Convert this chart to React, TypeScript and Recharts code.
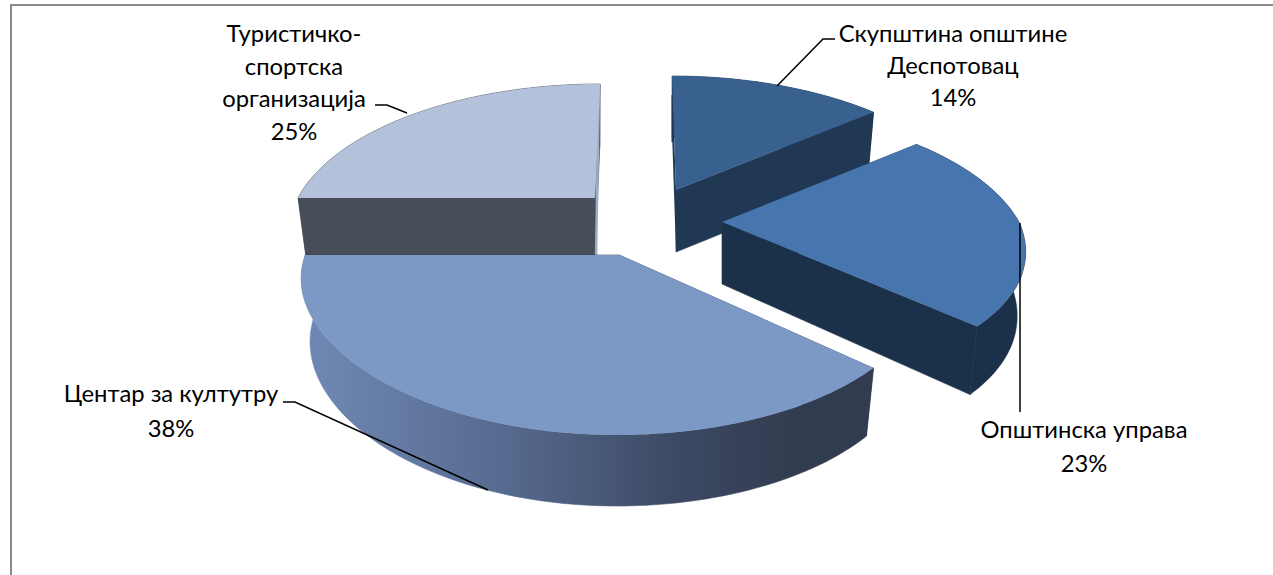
import React from 'react';
import { PieChart, Pie } from 'recharts';

// Data (drawing order runs clockwise from the left-hand edge of the pie)
const categories = ['Туристичко-спортска организација', 'Скупштина општине Деспотовац', 'Општинска управа', 'Центар за културу'];
const displayLines = [
  ['Туристичко-', 'спортска', 'организација'],
  ['Скупштина општине', 'Деспотовац'],
  ['Општинска управа'],
  ['Центар за култутру'],
];
const shares = [25, 14, 23, 38];

// Styles and layout, per slice
const topColors = ['#b3c2da', '#38618f', '#4776ae', '#7c98c5'];
const sideColors = ['#474e58', '#203854', '#1b3049', '#323c50'];
const backFaceColors = ['#9dadc8', '#203854', '#1b3049', '#323c50'];
const outerWallFills = ['#474e58', '#203854', '#1b3049', 'url(#wallGradient)'];
const apexes = [
  { x: 595, y: 198 },
  { x: 676, y: 190 },
  { x: 722, y: 222 },
  { x: 620, y: 255 },
];
// Shape tweaks: stretch of the left half, and shortening of the near half
const leftStretch = [0, 0, 0, 0.06];
const leftStretchFade = [0, 0, 0, 0.08];
const nearShrinkX = [0, 0, 0.055, 0];
const nearShrinkY = [0, 0, 0.11, 0];
const labelLayout = [
  { x: 294, y: 33, line: 32.5, leader: '375,105 387,105 407,113' },
  { x: 953, y: 33, line: 32, leader: '835,39 823,39 777,86' },
  { x: 1084, y: 429, line: 34, leader: '1020,223 1020,412' },
  { x: 171, y: 393, line: 35, leader: '283,402 295,402 488,490' },
];

const W = 1273;
const H = 575;
const PIE_R = 297;
const FY = 0.47;
const PERSP = 0.2245;
const DEPTH = 62;
const PAGE_CX = 640;
const FONT = 'Lato, "Open Sans", sans-serif';

type P = [number, number];

function project(deg: number, r: number, idx: number, bottom: boolean): P {
  const apex = apexes[idx];
  const a = (deg * Math.PI) / 180;
  const X = Math.cos(a);
  const Y = -Math.sin(a);
  const near = Math.max(Y, 0);
  const s = 1 / (1 - PERSP * Y);
  const lean = (apex.x - PAGE_CX) * (s - 1) * 0.6;
  const stretch = X < 0 ? 1 + leftStretch[idx] - leftStretchFade[idx] * near : 1;
  const x = r * X * s * stretch * (1 - nearShrinkX[idx] * near) + lean;
  const y = r * FY * Y * s * (1 - nearShrinkY[idx] * near);
  if (!bottom) return [apex.x + x, apex.y + y];
  return [apex.x + x * 0.972, apex.y + y + DEPTH + 9 * near];
}

const pathOf = (pts: P[]) =>
  'M' + pts.map((p) => `${p[0].toFixed(1)},${p[1].toFixed(1)}`).join('L') + 'Z';

function PerspectiveSlice(props: any) {
  const { startAngle, endAngle, outerRadius, index } = props;
  const idx = index ?? categories.indexOf(props.name);
  const apex = apexes[idx];
  const hi = Math.max(startAngle, endAngle);
  const lo = Math.min(startAngle, endAngle);
  const steps = Math.max(8, Math.round((hi - lo) / 1.5));
  const angles: number[] = [];
  for (let i = 0; i <= steps; i++) angles.push(hi + ((lo - hi) * i) / steps);
  const topArc = angles.map((d) => project(d, outerRadius, idx, false));
  const botArc = angles.map((d) => project(d, outerRadius, idx, true));
  const apexBot: P = [apex.x, apex.y + DEPTH];
  const apexTop: P = [apex.x, apex.y];
  const side = sideColors[idx];
  const wall = outerWallFills[idx];
  return (
    <g>
      <path d={pathOf([apexTop, topArc[0], botArc[0], apexBot])} fill={idx === 0 ? side : backFaceColors[idx]} />
      <path d={pathOf([apexTop, topArc[steps], botArc[steps], apexBot])} fill={side} stroke={side} strokeWidth={0.6} />
      <path d={pathOf([...topArc, ...botArc.slice().reverse()])} fill={wall} stroke={wall} strokeWidth={0.6} />
      {idx === 0 && (
        <line
          x1={topArc[steps][0] - 1}
          y1={topArc[steps][1]}
          x2={apexBot[0] + 1}
          y2={apexBot[1]}
          stroke={backFaceColors[0]}
          strokeWidth={2.5}
        />
      )}
      {idx === 1 && (
        <line x1={apex.x - 3.5} y1={apex.y - 95} x2={apex.x - 3.5} y2={apex.y - 48} stroke={side} strokeWidth={2} />
      )}
      <path d={pathOf([apexTop, ...topArc])} fill={topColors[idx]} />
    </g>
  );
}

function SliceLabel(props: any) {
  const { index, value } = props;
  const lay = labelLayout[index];
  const lines = [...displayLines[index], `${value}%`];
  return (
    <g>
      <polyline points={lay.leader} fill="none" stroke="#000" strokeWidth={1.5} />
      {lines.map((l, i) => (
        <text
          key={i}
          x={lay.x}
          y={lay.y + i * lay.line}
          textAnchor="middle"
          dominantBaseline="central"
          fontFamily={FONT}
          fontSize={23.8}
          fill="#000"
        >
          {l}
        </text>
      ))}
    </g>
  );
}

const pieData = categories.map((name, i) => ({ name, value: shares[i] }));

export default function App() {
  return (
    <div style={{ position: 'absolute', left: 0, top: 0, width: W, height: H, background: '#fff', overflow: 'hidden' }}>
      <div
        style={{
          position: 'absolute',
          left: 10,
          top: 4,
          width: W,
          height: H,
          borderLeft: '2px solid #8a8a8a',
          borderTop: '2px solid #8a8a8a',
        }}
      />
      <div style={{ position: 'absolute', left: 0, top: 0 }}>
        <PieChart width={W} height={H} margin={{ top: 0, right: 0, bottom: 0, left: 0 }}>
          <defs>
            <linearGradient id="wallGradient" gradientUnits="userSpaceOnUse" x1={310} y1={0} x2={800} y2={0}>
              <stop offset="0" stopColor="#6f88b3" />
              <stop offset="0.4" stopColor="#566a8f" />
              <stop offset="0.75" stopColor="#3c4963" />
              <stop offset="1" stopColor="#323c50" />
            </linearGradient>
          </defs>
          <Pie
            data={pieData}
            dataKey="value"
            nameKey="name"
            cx={640}
            cy={225}
            innerRadius={0}
            outerRadius={PIE_R}
            startAngle={180}
            endAngle={-180}
            stroke="none"
            isAnimationActive={false}
            shape={PerspectiveSlice}
            label={SliceLabel}
            labelLine={false}
          />
        </PieChart>
      </div>
    </div>
  );
}
